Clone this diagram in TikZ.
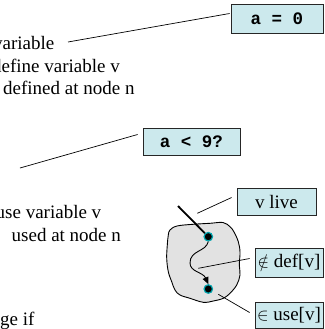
\documentclass[tikz,border=0pt]{standalone}
\usepackage{fontspec}
\setmainfont{Liberation Serif}
\newfontfamily\codefont{Liberation Mono}
\usetikzlibrary{arrows.meta}
\definecolor{boxfill}{RGB}{204,233,237}
\definecolor{blobfill}{RGB}{226,226,226}
\definecolor{dotring}{RGB}{0,165,175}

\begin{document}
\begin{tikzpicture}[x=1pt,y=-1pt,
  tag/.style={draw=black!85, fill=boxfill, line width=0.8pt, inner sep=0pt},
  codetag/.style={tag, font=\codefont\bfseries\fontsize{17.5}{19}\selectfont},
  mathtag/.style={tag, font=\fontsize{19}{21}\selectfont},
  bodytext/.style={anchor=base west, inner sep=0pt, font=\fontsize{19}{21}\selectfont},
  leader/.style={draw=black, line width=0.7pt},
  point/.style={circle, fill=black, draw=dotring, line width=1.2pt, minimum size=8.5pt, inner sep=0pt},
]
\useasboundingbox (0,0) rectangle (324,329);
\clip (0,0) rectangle (324,329);

% body text lines
\node[bodytext] (t1) at (-7,50) {variable};
\node[bodytext] (t2) at (-8,72) {define variable v};
\node[bodytext] (t3) at (3,94) {defined at node n};
\node[bodytext] (t4) at (-4.5,218) {use variable v};
\node[bodytext] (t5) at (11.5,241) {used at node n};
\node[bodytext] (t6) at (0,325) {ge if};

% code boxes with their leaders
\node[codetag, minimum width=92pt, minimum height=29pt] (def) at (277,18.5) {a = 0};
\node[codetag, minimum width=97pt, minimum height=27pt] (use) at (191.5,141.5) {a < 9?};
\coordinate (defend) at (68,42);
\coordinate (useend) at (20,168);
\path (def.west) ++(-1,-5) coordinate (defstart);
\draw[leader] (defstart) -- (defend);
\path (use.west) ++(-5,-7) coordinate (usestart);
\draw[leader] (usestart) -- (useend);

% region of the graph
\draw[fill=blobfill, line width=0.9pt] plot[smooth cycle, tension=0.6] coordinates {
  (170,230) (177,226) (193,224.3) (210,223.3) (223,222.5) (230,226.7)
  (234,232) (238.3,241.7) (240,252) (239.3,265) (240,275) (236.7,285)
  (230,293.3) (223.3,298.3) (213.3,301) (203.3,302.3) (190,298.3)
  (180,295) (175,290) (171.7,281.7) (168.3,271.7) (166.7,258.3)
  (167.3,245) (168.3,235)};

% nodes and path through the region
\coordinate (entry) at (178,206);
\node[point] (n1) at (208.3,236.7) {};
\node[point] (n2) at (208.3,289) {};
\draw[line width=1.8pt] (entry) -- (n1);
\draw[line width=0.9pt, -{Triangle[length=7pt,width=6pt]}]
  (n1.south) .. controls (206,252) and (190,250) .. (190,263)
  .. controls (190,272) and (203,272) .. (n2.north);

% labels
\node[mathtag, minimum width=79pt, minimum height=27pt] (live) at (276.5,201.5) {v live};
\node[mathtag, minimum width=68pt, minimum height=29pt] (ndef) at (289,262.5) {$\notin$ def[v]};
\node[mathtag, minimum width=68pt, minimum height=26pt] (inuse) at (289,315.5) {$\in$ use[v]};
\coordinate (liveend) at (197.3,213.3);
\coordinate (ndefend) at (198.3,268.3);
\coordinate (inuseend) at (218.3,294.3);
\path (live.west) ++(-5,-4) coordinate (livestart);
\draw[leader] (livestart) -- (liveend);
\path (ndef.west) ++(-5,-4) coordinate (ndefstart);
\draw[leader] (ndefstart) -- (ndefend);
\path (inuse.west) ++(-5,-3) coordinate (inusestart);
\draw[leader] (inusestart) -- (inuseend);
\end{tikzpicture}
\end{document}
